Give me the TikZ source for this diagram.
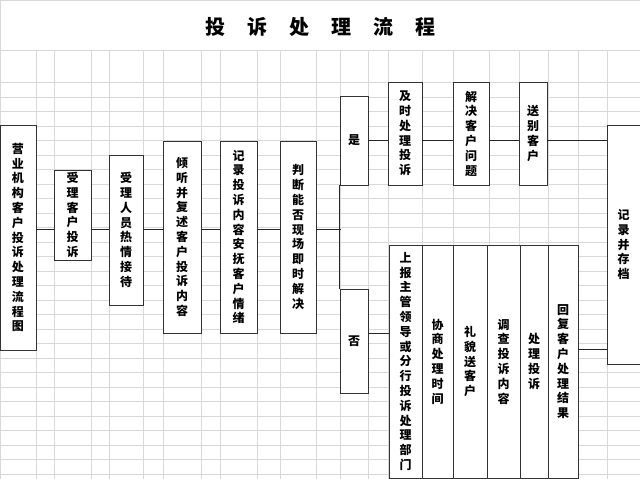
\documentclass[tikz,border=0pt]{standalone}
\usepackage{fontspec}
\setmainfont{Noto Sans CJK SC}
\begin{document}
\begin{tikzpicture}[x=1pt,y=-1pt,
  bx/.style={draw=black!80,line width=0.9pt,fill=white,inner sep=0pt,font=\fontsize{12}{14.8}\selectfont\bfseries,align=center},
  ln/.style={draw=black!85,line width=0.9pt}]
\fill[white] (0,0) rectangle (640,479);
\useasboundingbox (0,0) rectangle (640,479);
% grid
\foreach \y in {50,82,97,111.5,126,140.5,155,169.5,184,198.5,213,227.5,242,256.5,271,285.5,300,314.5,329,343.5,358,372.5,387,401.5,416,430.5,445,459.5,474}
  \draw[black!15,line width=0.7pt] (0,\y) -- (640,\y);
\foreach \x in {36,54,91,109,143,163,201,220,257,280,316,340,368,388,422,453,489,519,548,578,607}
  \draw[black!15,line width=0.7pt] (\x,50) -- (\x,479);
\draw[black!15,line width=0.7pt] (0.5,0) -- (0.5,479) (0,0.5) -- (640,0.5);
\node[font=\fontsize{20}{22}\selectfont\bfseries] (title) at (320,27) {投\hspace{1.1em}诉\hspace{1.1em}处\hspace{1.1em}理\hspace{1.1em}流\hspace{1.1em}程};
% boxes
\newcommand{\bxat}[6]{\node[bx,minimum width=#3-#2,minimum height=#5-#4] (#1) at ({(#2+#3)/2},{(#4+#5)/2}) {#6};}
\bxat{a}{0}{36}{125}{350}{营\\业\\机\\构\\客\\户\\投\\诉\\处\\理\\流\\程\\图}
\bxat{b}{54}{91}{170}{260}{受\\理\\客\\户\\投\\诉}
\bxat{c}{109}{143}{155}{305}{受\\理\\人\\员\\热\\情\\接\\待}
\bxat{d}{163}{201}{141}{333}{倾\\听\\并\\复\\述\\客\\户\\投\\诉\\内\\容}
\bxat{e}{220}{257}{141}{333}{记\\录\\投\\诉\\内\\容\\安\\抚\\客\\户\\情\\绪}
\bxat{f}{280}{316}{141}{333}{判\\断\\能\\否\\现\\场\\即\\时\\解\\决}
\bxat{yes}{340}{368}{96}{185}{是}
\bxat{no}{340}{368}{289}{393}{否}
\bxat{g}{388}{422}{82}{185}{及\\时\\处\\理\\投\\诉}
\bxat{h}{453}{489}{82}{185}{解\\决\\客\\户\\问\\题}
\bxat{i}{519}{547}{82}{185}{送\\别\\客\\户}
\bxat{z}{607}{640}{125}{364}{记\\录\\并\\存\\档}
\bxat{p1}{389}{422}{245}{478}{上\\报\\主\\管\\领\\导\\或\\分\\行\\投\\诉\\处\\理\\部\\门}
\bxat{p2}{422}{453}{245}{478}{协\\商\\处\\理\\时\\间}
\bxat{p3}{453}{487}{245}{478}{礼\\貌\\送\\客\\户}
\bxat{p4}{487}{520}{245}{478}{调\\查\\投\\诉\\内\\容}
\bxat{p5}{520}{548}{245}{478}{处\\理\\投\\诉}
\bxat{p6}{548}{578}{245}{478}{回\\复\\客\\户\\处\\理\\结\\果}
% connectors
\coordinate (j) at (341,229);
\draw[ln] (a.east|-j) -- (b.west|-j) (b.east|-j) -- (c.west|-j) (c.east|-j) -- (d.west|-j)
  (d.east|-j) -- (e.west|-j) (e.east|-j) -- (f.west|-j) (f.east|-j) -- (j);
\draw[ln] (yes.south west) -- (no.north west);
\draw[ln] (yes.east) -- (g.west|-yes.east);
\coordinate (r) at (0,140);
\draw[ln] (g.east|-r) -- (h.west|-r) (h.east|-r) -- (i.west|-r) (i.east|-r) -- (z.west|-r);
\draw[ln] (no.east|-0,333) -- (p1.west|-0,333);
\draw[ln] (p6.east|-0,349) -- (z.west|-0,349);
\end{tikzpicture}
\end{document}
